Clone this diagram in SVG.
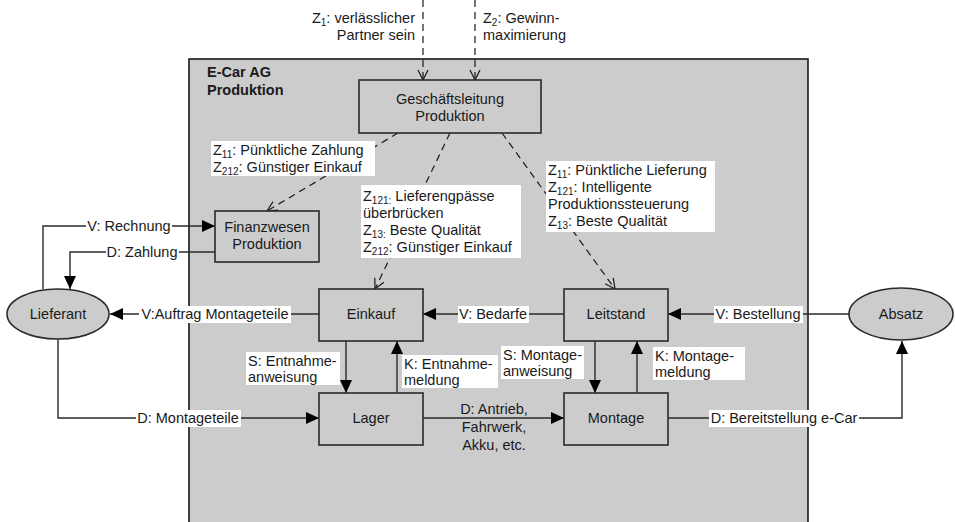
<svg xmlns="http://www.w3.org/2000/svg" width="955" height="522" viewBox="0 0 955 522">
<style>
  text { font-family: "Liberation Sans", Arial, sans-serif; font-size: 14.5px; fill: #1a1a1a; }
  .c { text-anchor: middle; }
  .r { text-anchor: end; }
  .b { font-weight: bold; }
  .sub { font-size: 10px; }
  .box { fill: #cccccc; stroke: #2a2a2a; stroke-width: 1.6; }
  .ln { fill: none; stroke: #2a2a2a; stroke-width: 1.4; }
  .arr { marker-end: url(#ah); }
  .dash { fill: none; stroke: #1a1a1a; stroke-width: 1.2; stroke-dasharray: 7 5; marker-end: url(#oh); }
  .lbl { fill: #ffffff; }
</style>
<defs>
  <marker id="ah" markerUnits="userSpaceOnUse" markerWidth="13" markerHeight="12" refX="13" refY="6" orient="auto">
    <path d="M0,0 L13,6 L0,12 z" fill="#000"/>
  </marker>
  <marker id="oh" markerUnits="userSpaceOnUse" markerWidth="12" markerHeight="12" refX="11" refY="6" orient="auto">
    <path d="M1,1 L11,6 L1,11" fill="none" stroke="#1a1a1a" stroke-width="1.2"/>
  </marker>
</defs>

<g id="container">
  <rect x="189" y="59" width="619" height="475" fill="#cccccc" stroke="#1a1a1a" stroke-width="1.6"/>
  <text class="b" x="207" y="77">E-Car AG</text>
  <text class="b" x="207" y="95">Produktion</text>
</g>

<g id="connectors">
  <path class="ln arr" d="M43,289 V226 H215"/>
  <path class="ln arr" d="M215,252 H70 V289"/>
  <path class="ln arr" d="M319,314 H110"/>
  <path class="ln arr" d="M58,339 V418 H319"/>
  <path class="ln arr" d="M564,314 H423"/>
  <path class="ln arr" d="M849,314 H668"/>
  <path class="ln arr" d="M346,341 V393"/>
  <path class="ln arr" d="M397,393 V341"/>
  <path class="ln arr" d="M595,341 V393"/>
  <path class="ln arr" d="M637,393 V341"/>
  <path class="ln arr" d="M423,418 H564"/>
  <path class="ln arr" d="M668,418 H902 V341"/>
  <path class="dash" d="M423,0 V80"/>
  <path class="dash" d="M475,0 V80"/>
  <path class="dash" d="M398,133 L267,211"/>
  <path class="dash" d="M450,133 L375,289"/>
  <path class="dash" d="M502,133 L615,289"/>

  <!-- labels -->
  <rect class="lbl" x="86" y="218" width="86" height="17"/>
  <text class="c" x="129" y="231">V: Rechnung</text>
  <rect class="lbl" x="106" y="244" width="73" height="17"/>
  <text class="c" x="142" y="257">D: Zahlung</text>
  <rect class="lbl" x="139" y="306" width="152" height="17"/>
  <text class="c" x="215" y="319">V:Auftrag Montageteile</text>
  <rect class="lbl" x="136" y="410" width="105" height="17"/>
  <text class="c" x="188" y="423">D: Montageteile</text>
  <rect class="lbl" x="458" y="306" width="71" height="17"/>
  <text class="c" x="493" y="319">V: Bedarfe</text>
  <rect class="lbl" x="714" y="306" width="89" height="17"/>
  <text class="c" x="758" y="319">V: Bestellung</text>
  <rect class="lbl" x="709" y="410" width="150" height="17"/>
  <text class="c" x="784" y="423">D: Bereitstellung e-Car</text>

  <rect class="lbl" x="246" y="352" width="94" height="33"/>
  <text x="248" y="366">S: Entnahme-</text>
  <text x="248" y="382">anweisung</text>
  <rect class="lbl" x="402" y="355" width="96" height="33"/>
  <text x="404" y="369">K: Entnahme-</text>
  <text x="404" y="385">meldung</text>
  <rect class="lbl" x="501" y="346" width="83" height="33"/>
  <text x="503" y="360">S: Montage-</text>
  <text x="503" y="376">anweisung</text>
  <rect class="lbl" x="653" y="347" width="92" height="33"/>
  <text x="655" y="361">K: Montage-</text>
  <text x="655" y="377">meldung</text>

  <text class="c" x="494" y="414">D: Antrieb,</text>
  <text class="c" x="494" y="432">Fahrwerk,</text>
  <text class="c" x="494" y="450">Akku, etc.</text>

  <text class="r" x="415" y="23">Z<tspan class="sub" dy="3">1</tspan><tspan dy="-3">: verlässlicher</tspan></text>
  <text class="r" x="415" y="40">Partner sein</text>
  <text x="483" y="23">Z<tspan class="sub" dy="3">2</tspan><tspan dy="-3">: Gewinn-</tspan></text>
  <text x="483" y="40">maximierung</text>

  <rect class="lbl" x="211" y="141" width="164" height="35"/>
  <text x="213" y="155">Z<tspan class="sub" dy="3">11</tspan><tspan dy="-3">: Pünktliche Zahlung</tspan></text>
  <text x="213" y="172">Z<tspan class="sub" dy="3">212</tspan><tspan dy="-3">: Günstiger Einkauf</tspan></text>

  <rect class="lbl" x="361" y="185" width="160" height="73"/>
  <text x="363" y="201">Z<tspan class="sub" dy="3">121:</tspan><tspan dy="-3"> Lieferengpässe</tspan></text>
  <text x="363" y="218">überbrücken</text>
  <text x="363" y="235">Z<tspan class="sub" dy="3">13:</tspan><tspan dy="-3"> Beste Qualität</tspan></text>
  <text x="363" y="252">Z<tspan class="sub" dy="3">212</tspan><tspan dy="-3">: Günstiger Einkauf</tspan></text>

  <rect class="lbl" x="546" y="161" width="169" height="71"/>
  <text x="548" y="175">Z<tspan class="sub" dy="3">11</tspan><tspan dy="-3">: Pünktliche Lieferung</tspan></text>
  <text x="548" y="192">Z<tspan class="sub" dy="3">121</tspan><tspan dy="-3">: Intelligente</tspan></text>
  <text x="548" y="209">Produktionssteuerung</text>
  <text x="548" y="226">Z<tspan class="sub" dy="3">13</tspan><tspan dy="-3">: Beste Qualität</tspan></text>
</g>

<g id="geschaeftsleitung">
  <rect class="box" x="359" y="80" width="182" height="53"/>
  <text class="c" x="450" y="104">Geschäftsleitung</text>
  <text class="c" x="450" y="121">Produktion</text>
</g>
<g id="finanzwesen">
  <rect class="box" x="215" y="211" width="104" height="51"/>
  <text class="c" x="267" y="232">Finanzwesen</text>
  <text class="c" x="267" y="249">Produktion</text>
</g>
<g id="einkauf">
  <rect class="box" x="319" y="289" width="104" height="52"/>
  <text class="c" x="371" y="319">Einkauf</text>
</g>
<g id="leitstand">
  <rect class="box" x="564" y="289" width="104" height="52"/>
  <text class="c" x="616" y="319">Leitstand</text>
</g>
<g id="lager">
  <rect class="box" x="319" y="393" width="104" height="52"/>
  <text class="c" x="371" y="423">Lager</text>
</g>
<g id="montage">
  <rect class="box" x="564" y="393" width="104" height="52"/>
  <text class="c" x="616" y="423">Montage</text>
</g>
<g id="lieferant">
  <ellipse class="box" cx="58" cy="314" rx="51" ry="25"/>
  <text class="c" x="58" y="319">Lieferant</text>
</g>
<g id="absatz">
  <ellipse class="box" cx="901" cy="314" rx="52" ry="26"/>
  <text class="c" x="901" y="319">Absatz</text>
</g>
</svg>
